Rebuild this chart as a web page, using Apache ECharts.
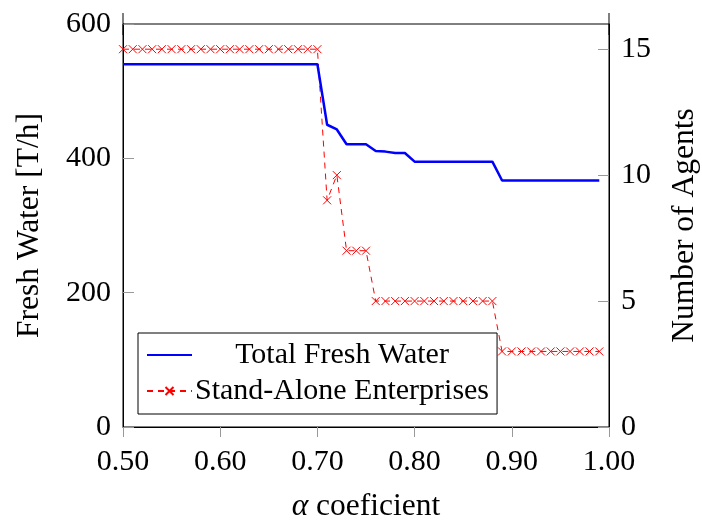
<!DOCTYPE html>
<html>
<head>
<meta charset="utf-8">
<script src="https://cdn.jsdelivr.net/npm/echarts@6/dist/echarts.min.js"></script>
<style>html,body{margin:0;padding:0;background:#fff}#c{width:702px;height:520px}</style>
</head>
<body>
<div id="c"></div>
<script>
var alphas = [0.50,0.51,0.52,0.53,0.54,0.55,0.56,0.57,0.58,0.59,0.60,0.61,0.62,0.63,0.64,0.65,0.66,0.67,0.68,0.69,0.70,
              0.71,0.72,0.73,0.74,0.75,0.76,0.77,0.78,0.79,0.80,0.81,0.82,0.83,0.84,0.85,0.86,0.87,0.88,
              0.89,0.90,0.91,0.92,0.93,0.94,0.95,0.96,0.97,0.98,0.99];
var freshWater = [540,540,540,540,540,540,540,540,540,540,540,540,540,540,540,540,540,540,540,540,540,
                  450,443,421,421,421,411,410,408,408,395,395,395,395,395,395,395,395,395,
                  367,367,367,367,367,367,367,367,367,367,367];
var standAlone = [15,15,15,15,15,15,15,15,15,15,15,15,15,15,15,15,15,15,15,15,15,
                  9,10,7,7,7,5,5,5,5,5,5,5,5,5,5,5,5,5,
                  3,3,3,3,3,3,3,3,3,3,3];
var seriesNames = ['Total Fresh Water', 'Stand-Alone Enterprises'];
var xTitle = 'coeficient';
var yLeftTitle = 'Fresh Water [T/h]';
var yRightTitle = 'Number of Agents';

function pairs(xs, ys) { return xs.map(function (x, i) { return [x, ys[i]]; }); }

var FONT = 'Liberation Serif';
var FS = 30;
var TS = 31.5;
var chart = echarts.init(document.getElementById('c'));
chart.setOption({
  animation: false,
  backgroundColor: '#fff',
  textStyle: { fontFamily: FONT },
  grid: { left: 123, right: 93, top: 24, bottom: 93, containLabel: false, outerBoundsMode: 'none',
          show: true, borderColor: '#000', borderWidth: 1, backgroundColor: 'transparent' },
  xAxis: {
    type: 'value', min: 0.5, max: 1.0, interval: 0.1,
    axisLine: { onZero: false, lineStyle: { color: '#000', width: 1 } },
    axisTick: { show: true, inside: false, length: 10, lineStyle: { color: '#999' } },
    splitLine: { show: false },
    axisLabel: { color: '#000', fontFamily: FONT, fontSize: FS, margin: 20, formatter: function (v) { return v.toFixed(2); } },
    name: '{a|α} ' + xTitle, nameLocation: 'middle', nameGap: 64,
    nameTextStyle: { color: '#000', fontFamily: FONT, fontSize: TS, rich: { a: { fontStyle: 'italic', fontFamily: FONT, fontSize: TS, color: '#000' } } }
  },
  yAxis: [{
    type: 'value', min: 0, max: 600, interval: 200, position: 'left',
    axisLine: { show: true, symbol: ['none', 'rect'], symbolSize: [1, 22], lineStyle: { color: '#000', width: 1 } },
    axisTick: { show: true, inside: true, length: 11, lineStyle: { color: '#999' } },
    splitLine: { show: false },
    axisLabel: { color: '#000', fontFamily: FONT, fontSize: FS, margin: 12 },
    name: yLeftTitle, nameLocation: 'middle', nameGap: 77, nameRotate: 90,
    nameTextStyle: { color: '#000', fontFamily: FONT, fontSize: TS }
  }, {
    type: 'value', min: 0, max: 16, interval: 5, position: 'right',
    axisLine: { show: true, symbol: ['none', 'rect'], symbolSize: [1, 22], lineStyle: { color: '#000', width: 1 } },
    axisTick: { show: true, inside: true, length: 11, lineStyle: { color: '#999' } },
    splitLine: { show: false },
    axisLabel: { color: '#000', fontFamily: FONT, fontSize: FS, margin: 12, showMaxLabel: false },
    name: yRightTitle, nameLocation: 'middle', nameGap: 60, nameRotate: 90,
    nameTextStyle: { color: '#000', fontFamily: FONT, fontSize: TS }
  }],
  legend: {
    left: 138, top: 333, width: 358, orient: 'vertical',
    backgroundColor: '#fff', borderColor: '#000', borderWidth: 1, borderRadius: 0,
    padding: [7, 8, 8, 8], itemGap: 6, itemWidth: 45, itemHeight: 10,
    data: [{ name: seriesNames[0], itemStyle: { opacity: 0 } }, { name: seriesNames[1] }],
    formatter: function (n) { return '{t|' + n + '}'; },
    textStyle: { color: '#000', fontFamily: FONT, fontSize: FS, rich: { t: { width: 290, align: 'center', fontFamily: FONT, fontSize: FS, lineHeight: 31, color: '#000' } } }
  },
  series: [{
    name: seriesNames[0], type: 'line', yAxisIndex: 0,
    data: pairs(alphas, freshWater),
    showSymbol: false, symbol: 'none',
    lineStyle: { color: '#0000ff', width: 2.5 },
    itemStyle: { color: '#0000ff' },
    z: 3
  }, {
    name: seriesNames[1], type: 'line', yAxisIndex: 1,
    data: pairs(alphas, standAlone),
    symbol: 'path://M0,0L10,10M10,0L0,10', symbolSize: 8, showSymbol: true,
    lineStyle: { color: '#ff0000', width: 1, type: [6, 5] },
    itemStyle: { color: 'none', borderColor: '#ff0000', borderWidth: 1 },
    z: 2
  }]
});
</script>
</body>
</html>
